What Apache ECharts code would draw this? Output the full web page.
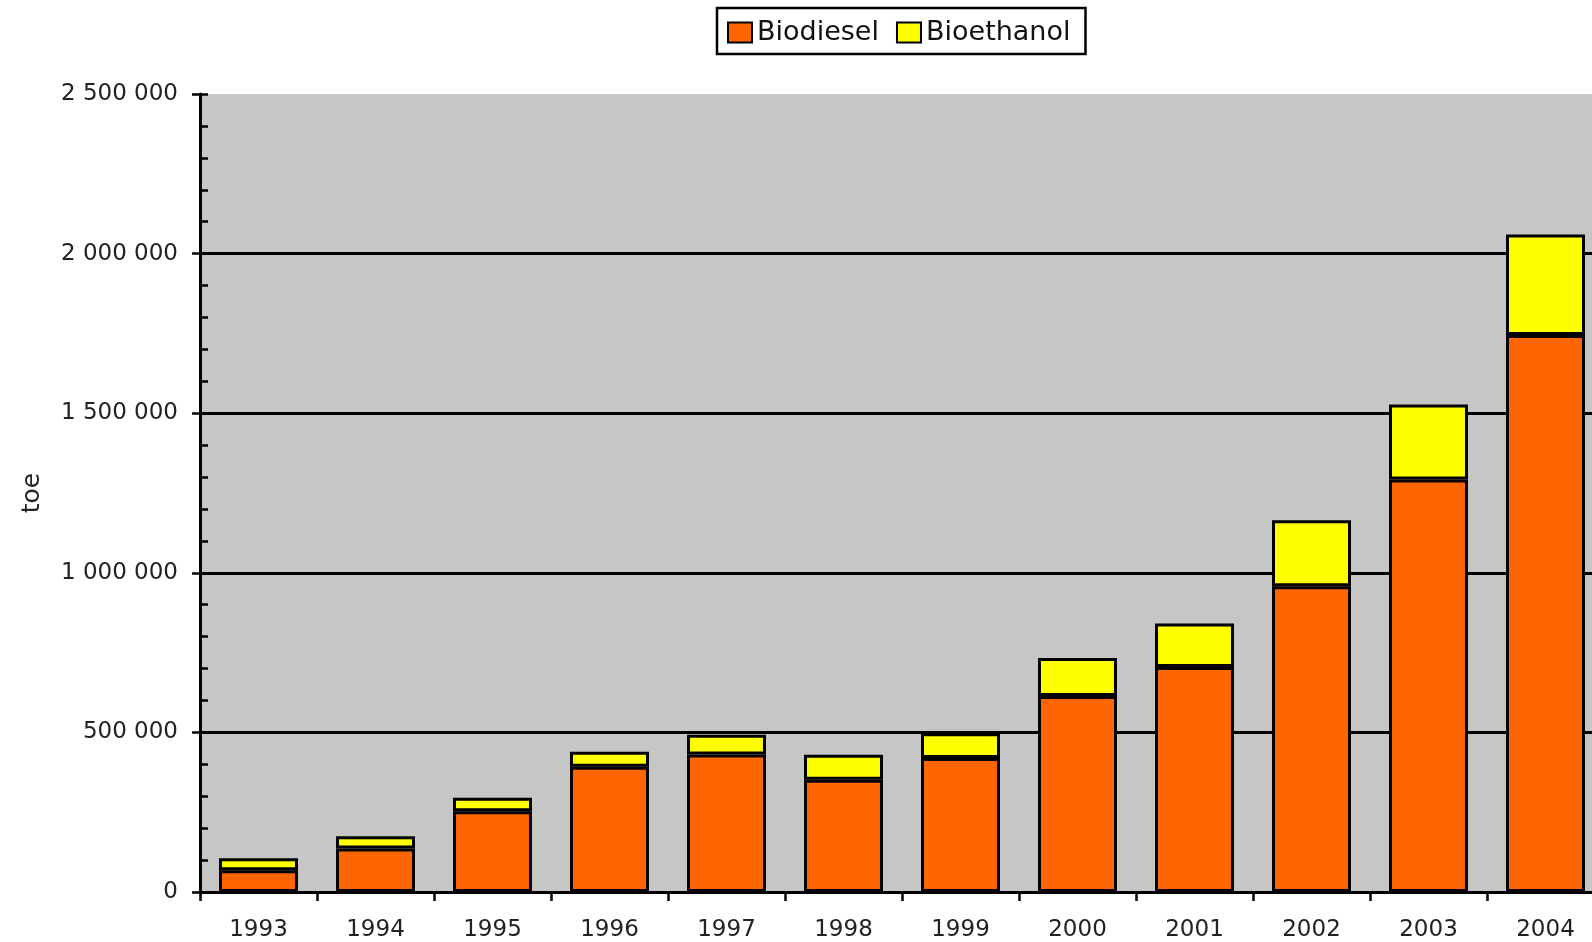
<!DOCTYPE html>
<html>
<head>
<meta charset="utf-8">
<script src="https://cdn.jsdelivr.net/npm/echarts@6/dist/echarts.min.js"></script>
<style>
html,body{margin:0;padding:0;background:#fff;overflow:hidden;width:1592px;height:942px;}
#chart{width:1610px;height:942px;}
</style>
</head>
<body>
<div id="chart"></div>
<script>
var years = ['1993','1994','1995','1996','1997','1998','1999','2000','2001','2002','2003','2004'];
var biodiesel = [68000,136000,253000,392000,431000,352000,420000,614000,705000,958000,1292000,1745000];
var bioethanol = [38000,38500,42000,47000,62000,78000,77000,119000,136000,207000,235000,315000];
var yAxisName = 'toe';

var FONT = 'DejaVu Sans';
function fmt(v){
  return String(v).replace(/\B(?=(\d{3})+(?!\d))/g, ' ');
}
var chart = echarts.init(document.getElementById('chart'));
chart.setOption({
  animation: false,
  backgroundColor: '#ffffff',
  textStyle: {fontFamily: FONT},
  legend: {
    left: 717, top: 8,
    padding: [11, 15, 8, 10],
    itemWidth: 24, itemHeight: 20, itemGap: 17,
    borderColor: '#000', borderWidth: 2.5,
    icon: 'rect',
    textStyle: {fontFamily: FONT, fontSize: 27, color: '#111'},
    data: ['Biodiesel','Bioethanol']
  },
  grid: {
    left: 200, top: 94, width: 1404, height: 798,
    show: true, backgroundColor: '#c6c6c6', borderWidth: 0
  },
  xAxis: {
    type: 'category',
    data: years,
    axisLine: {lineStyle: {color: '#000', width: 3}},
    axisTick: {show: true, length: 9, lineStyle: {color: '#000', width: 2.5}},
    axisLabel: {fontFamily: FONT, fontSize: 23, color: '#222', margin: 27}
  },
  yAxis: [{
    type: 'value', min: 0, max: 2500000, interval: 500000,
    position: 'left',
    name: yAxisName, nameLocation: 'middle', nameGap: 155,
    nameTextStyle: {fontFamily: FONT, fontSize: 25, color: '#222'},
    axisLine: {show: true, lineStyle: {color: '#000', width: 3}},
    axisTick: {show: true, length: 8, lineStyle: {color: '#000', width: 2.5}},
    axisLabel: {fontFamily: FONT, fontSize: 23, color: '#222', margin: 22, formatter: fmt},
    splitLine: {show: true, showMaxLine: false, lineStyle: {color: '#000', width: 3}}
  },{
    type: 'value', min: 0, max: 2500000, interval: 100000,
    position: 'left', offset: 0,
    axisLine: {show: false},
    axisTick: {show: true, inside: true, length: 8, lineStyle: {color: '#000', width: 2.5}},
    axisLabel: {show: false},
    splitLine: {show: false}
  }],
  series: [{
    name: 'Biodiesel', type: 'bar', stack: 'total', yAxisIndex: 0,
    barWidth: '67.5%',
    data: biodiesel,
    itemStyle: {color: '#ff6600', borderColor: '#000', borderWidth: 3}
  },{
    name: 'Bioethanol', type: 'bar', stack: 'total', yAxisIndex: 0,
    barWidth: '67.5%',
    data: bioethanol,
    itemStyle: {color: '#ffff00', borderColor: '#000', borderWidth: 3}
  }]
});
</script>
</body>
</html>
